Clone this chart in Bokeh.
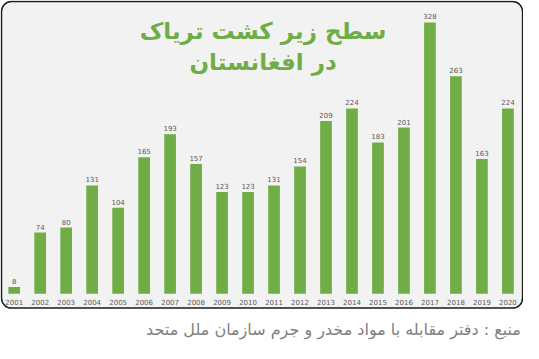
from bokeh.plotting import figure
from bokeh.models import ColumnDataSource, Range1d
from bokeh.core.properties import value
from bokeh.embed import file_html
from bokeh.resources import INLINE

years = ["2001", "2002", "2003", "2004", "2005", "2006", "2007", "2008", "2009", "2010",
         "2011", "2012", "2013", "2014", "2015", "2016", "2017", "2018", "2019", "2020"]
area = [8, 74, 80, 131, 104, 165, 193, 157, 123, 123,
        131, 154, 209, 224, 183, 201, 328, 263, 163, 224]
title_lines = ["سطح زیر کشت تریاک", "در افغانستان"]
source_text = "منبع : دفتر مقابله با مواد مخدر و جرم سازمان ملل متحد"

W, H = 523, 343
GREEN = "#70AD47"
FONT = value("DejaVu Sans")

idx = list(range(len(years)))
src = ColumnDataSource(dict(x=idx, top=area, lab=[str(v) for v in area], yr=years))

p = figure(width=W, height=H, output_backend="svg", toolbar_location=None,
           x_range=Range1d(-0.527, 19.60), y_range=Range1d(-60.2, 354.6),
           min_border=0, min_border_left=0, min_border_right=0,
           min_border_top=0, min_border_bottom=0)
p.axis.visible = False
p.grid.visible = False
p.outline_line_color = None
p.background_fill_color = "white"
p.border_fill_color = "white"

# rounded panel
p.quad(left=-0.489, right=19.565, top=353.4, bottom=-17.4,
       fill_color="#F2F2F2", line_color="#1a1a1a", line_width=1.5,
       border_radius=10)

p.vbar(x="x", top="top", bottom=0, width=0.45, source=src,
       fill_color=GREEN, line_color=None)

p.text(x="x", y="top", text="lab", source=src, text_align="center",
       text_baseline="bottom", y_offset=-3, text_font_size="7px",
       text_color="#595959", text_font=FONT)

p.text(x="x", y=-10.4, text="yr", source=src, text_align="center",
       text_baseline="middle", text_font_size="7px",
       text_color="#595959", text_font=FONT)

p.text(x=[9.58, 9.58], y=[317.6, 280.6], text=title_lines, text_align="center",
       text_baseline="middle", text_font_size="23px", text_font_style="bold",
       text_color=GREEN, text_font=FONT)

p.text(x=[19.5], y=[-42.7], text=[source_text], text_align="right",
       text_baseline="middle", text_font_size="16px",
       text_color="#7F7F7F", text_font=FONT)

open("out.html", "w").write(file_html(p, INLINE))
